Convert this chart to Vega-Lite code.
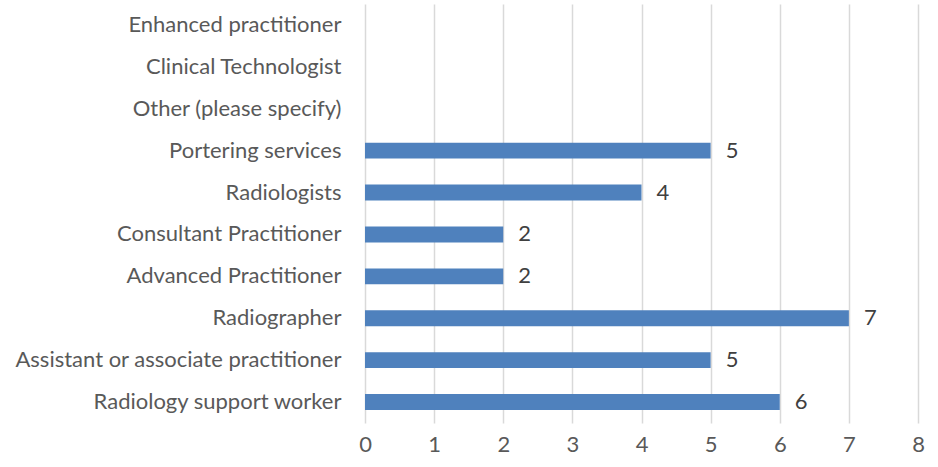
{
  "$schema": "https://vega.github.io/schema/vega-lite/v6.json",
  "autosize": "none",
  "width": 553,
  "height": 419,
  "padding": {"left": 365, "top": 4, "right": 20, "bottom": 44},
  "background": "white",
  "config": {"view": {"stroke": null}, "font": "Lato"},
  "data": {"values": [
    {"role": "Enhanced practitioner", "count": 0},
    {"role": "Clinical Technologist", "count": 0},
    {"role": "Other (please specify)", "count": 0},
    {"role": "Portering services", "count": 5},
    {"role": "Radiologists", "count": 4},
    {"role": "Consultant Practitioner", "count": 2},
    {"role": "Advanced Practitioner", "count": 2},
    {"role": "Radiographer", "count": 7},
    {"role": "Assistant or associate practitioner", "count": 5},
    {"role": "Radiology support worker", "count": 6}
  ]},
  "encoding": {
    "y": {"field": "role", "type": "nominal", "sort": null, "title": null,
      "scale": {"paddingInner": 0.62, "paddingOuter": 0.31},
      "axis": {"domain": false, "ticks": false, "labelFontSize": 22, "labelColor": "#595959", "labelPadding": 24, "labelLimit": 400}},
    "x": {"field": "count", "type": "quantitative", "title": null,
      "scale": {"domain": [0, 8], "nice": false},
      "axis": {"values": [0,1,2,3,4,5,6,7,8], "domain": false, "ticks": false, "grid": true, "gridColor": "#d9d9d9", "gridWidth": 1.5, "labelFontSize": 22, "labelColor": "#595959", "labelPadding": 11, "labelFlush": false}}
  },
  "layer": [
    {"mark": {"type": "bar", "color": "#4f81bd"}},
    {"mark": {"type": "text", "align": "left", "dx": 15, "fontSize": 22, "color": "#404040"}, "transform": [{"filter": "datum.count > 0"}], "encoding": {"text": {"field": "count", "type": "quantitative"}}}
  ]
}
